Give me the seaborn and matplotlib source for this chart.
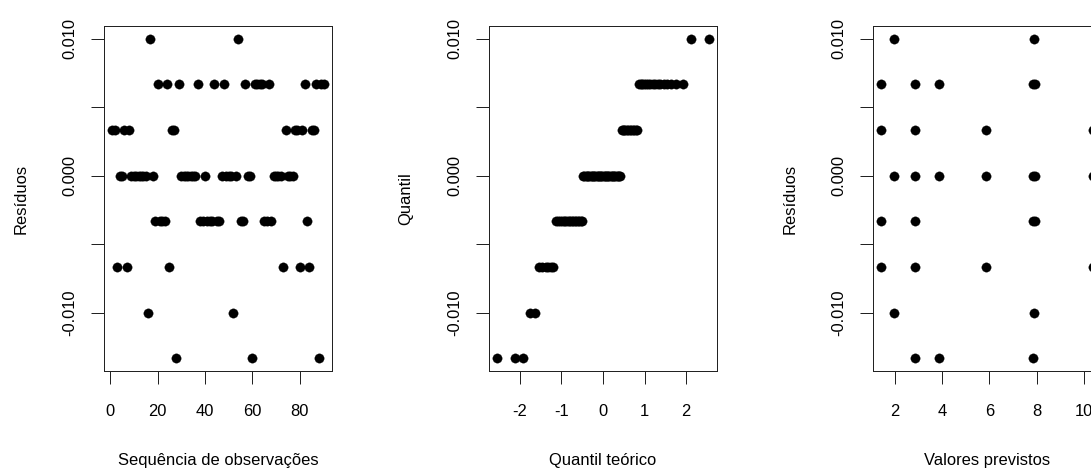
import numpy as np
import pandas as pd
import matplotlib
matplotlib.use("Agg")
import matplotlib.pyplot as plt
import seaborn as sns
from statistics import NormalDist

# Resíduos do modelo, na ordem das observações (1..90)
residuos = [
    0.00333, 0.00333, -0.00667, 0.0, 0.0, 0.00333, -0.00667, 0.00333, 0.0, 0.0,
    0.0, 0.0, 0.0, 0.0, 0.0, -0.01, 0.01, 0.0, -0.00333, 0.00667,
    -0.00333, -0.00333, -0.00333, 0.00667, -0.00667, 0.00333, 0.00333, -0.01333, 0.00667, 0.0,
    0.0, 0.0, 0.0, 0.0, 0.0, 0.0, 0.00667, -0.00333, -0.00333, 0.0,
    -0.00333, -0.00333, -0.00333, 0.00667, -0.00333, -0.00333, 0.0, 0.00667, 0.0, 0.0,
    0.0, -0.01, 0.0, 0.01, -0.00333, -0.00333, 0.00667, 0.0, 0.0, -0.01333,
    0.00667, 0.00667, 0.00667, 0.00667, -0.00333, -0.00333, 0.00667, -0.00333, 0.0, 0.0,
    0.0, 0.0, -0.00667, 0.00333, 0.0, 0.0, 0.0, 0.00333, 0.00333, -0.00667,
    0.00333, 0.00667, -0.00333, -0.00667, 0.00333, 0.00333, 0.00667, -0.01333, 0.00667, 0.00667,
]

# Pares (valor previsto, resíduo) distintos
previstos = [1.43, 1.43, 1.43, 1.43,
             1.96, 1.96, 1.96,
             2.84, 2.84, 2.84, 2.84, 2.84, 2.84,
             3.88, 3.88, 3.88,
             5.85, 5.85, 5.85,
             7.90, 7.86, 7.94, 7.86, 7.94, 7.86, 7.94, 7.90, 7.83,
             10.37, 10.37, 10.37]
res_previstos = [0.00667, 0.00333, -0.00333, -0.00667,
                 0.01, 0.0, -0.01,
                 0.00667, 0.00333, 0.0, -0.00333, -0.00667, -0.01333,
                 0.00667, 0.0, -0.01333,
                 0.00333, 0.0, -0.00667,
                 0.01, 0.00667, 0.00667, 0.0, 0.0, -0.00333, -0.00333, -0.01, -0.01333,
                 0.00333, 0.0, -0.00667]

y_ticks = [-0.010, -0.005, 0.000, 0.005, 0.010]
y_ticklabels = ["-0.010", "", "0.000", "", "0.010"]
x_ticks_seq = [0, 20, 40, 60, 80]
x_ticks_qq = [-2, -1, 0, 1, 2]
x_ticks_prev = [2, 4, 6, 8, 10]

# Tabelas para o seaborn
n = len(residuos)
df_seq = pd.DataFrame({"obs": np.arange(1, n + 1), "res": residuos})
ordenados = sorted(residuos)
teoricos = [NormalDist().inv_cdf((i + 0.5) / n) for i in range(n)]
df_qq = pd.DataFrame({"teo": teoricos, "quant": ordenados})
df_prev = pd.DataFrame({"prev": previstos, "res": res_previstos})

sns.set_theme(style="white")
plt.rcParams["font.family"] = ["Liberation Sans", "DejaVu Sans"]

DPI = 72
W, H = 1091, 471
fig = plt.figure(figsize=(W / DPI, H / DPI), dpi=DPI)
fig.patch.set_facecolor("white")

box_top, box_bottom = 26, 371
lefts = [104, 489, 873]
box_w = 228
FS = 16.5


def r_lim(values):
    lo, hi = min(values), max(values)
    pad = 0.04 * (hi - lo)
    return lo - pad, hi + pad


def make_axes(left):
    return fig.add_axes([left / W, (H - box_bottom) / H,
                         box_w / W, (box_bottom - box_top) / H])


def style(ax, xticks, xlabel, ylabel, xvals, yvals):
    ax.set_xlim(*r_lim(xvals))
    ax.set_ylim(*r_lim(yvals))
    ax.set_xticks(xticks)
    ax.set_xticklabels([str(t) for t in xticks])
    ax.set_yticks(y_ticks)
    ax.set_yticklabels(y_ticklabels)
    for s in ax.spines.values():
        s.set_visible(True)
        s.set_color("#222222")
        s.set_linewidth(1.0)
    ax.tick_params(axis="both", direction="out", length=13, width=1.0,
                   color="#222222", labelsize=FS, labelcolor="black")
    ax.tick_params(axis="x", pad=20, bottom=True)
    ax.tick_params(axis="y", left=True)
    for lab in ax.get_yticklabels():
        lab.set_rotation(90)
        lab.set_va("center")
        lab.set_ha("center")
    ax.yaxis.set_tick_params(pad=21)
    ax.set_xlabel(xlabel, fontsize=FS, color="black", va="center")
    ax.xaxis.set_label_coords(0.5, (box_bottom - 461) / (box_bottom - box_top))
    ax.set_ylabel(ylabel, fontsize=FS, color="black", va="center")
    ax.yaxis.set_label_coords((21 - 104) / box_w, 0.5)
    ax.grid(False)


marker_kw = dict(color="black", s=88, edgecolor="black", linewidth=0.3, legend=False)

ax1 = make_axes(lefts[0])
sns.scatterplot(data=df_seq, x="obs", y="res", ax=ax1, **marker_kw)
style(ax1, x_ticks_seq, "Sequência de observações", "Resíduos",
      df_seq["obs"], df_seq["res"])

ax2 = make_axes(lefts[1])
sns.scatterplot(data=df_qq, x="teo", y="quant", ax=ax2, **marker_kw)
style(ax2, x_ticks_qq, "Quantil teórico", "Quantil",
      df_qq["teo"], df_qq["quant"])

ax3 = make_axes(lefts[2])
sns.scatterplot(data=df_prev, x="prev", y="res", ax=ax3, **marker_kw)
style(ax3, x_ticks_prev, "Valores previstos", "Resíduos",
      df_prev["prev"], df_prev["res"])

fig.savefig("out.png", dpi=DPI, facecolor="white")
